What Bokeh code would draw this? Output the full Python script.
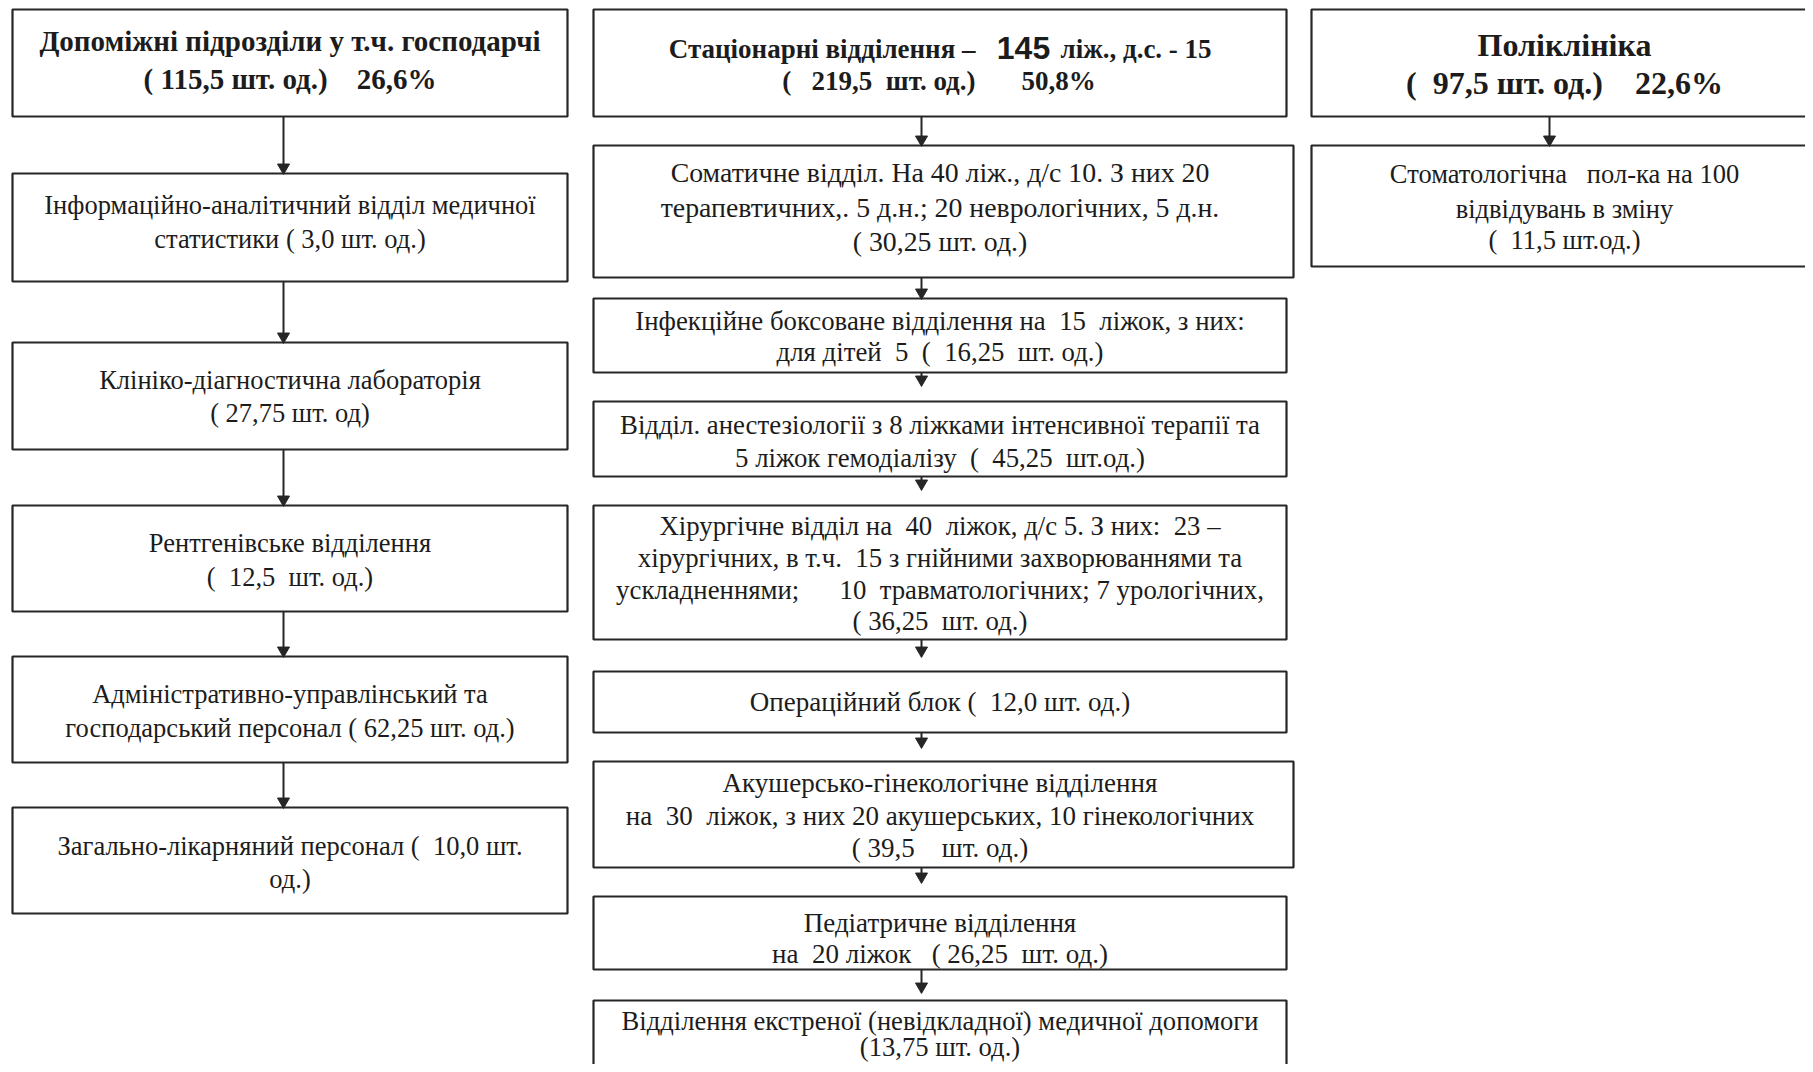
import re
from bokeh.plotting import figure
from bokeh.models import Range1d
from bokeh.core.properties import value
from bokeh.embed import file_html
from bokeh.resources import INLINE

# ---------------- data (texts of the org chart) ----------------
left_lines = [
    ["Допоміжні підрозділи у т.ч. господарчі", "( 115,5 шт. од.)    26,6%"],
    ["Інформаційно-аналітичний відділ медичної", "статистики ( 3,0 шт. од.)"],
    ["Клініко-діагностична лабораторія", "( 27,75 шт. од)"],
    ["Рентгенівське відділення", "(  12,5  шт. од.)"],
    ["Адміністративно-управлінський та", "господарський персонал ( 62,25 шт. од.)"],
    ["Загально-лікарняний персонал (  10,0 шт.", "од.)"],
]
mid_head_parts = ["Стаціонарні відділення –", "145", "ліж., д.с. - 15"]
mid_head_line2 = ["(   219,5  шт. од.)", "50,8%"]
mid_lines = [
    ["Соматичне відділ. На 40 ліж., д/с 10. З них 20",
     "терапевтичних,. 5 д.н.; 20 неврологічних, 5 д.н.",
     "( 30,25 шт. од.)"],
    ["Інфекційне боксоване відділення на  15  ліжок, з них:",
     "для дітей  5  (  16,25  шт. од.)"],
    ["Відділ. анестезіології з 8 ліжками інтенсивної терапії та",
     "5 ліжок гемодіалізу  (  45,25  шт.од.)"],
    ["Хірургічне відділ на  40  ліжок, д/с 5. З них:  23 –",
     "хірургічних, в т.ч.  15 з гнійними захворюваннями та",
     "ускладненнями;      10  травматологічних; 7 урологічних,",
     "( 36,25  шт. од.)"],
    ["Операційний блок (  12,0 шт. од.)"],
    ["Акушерсько-гінекологічне відділення",
     "на  30  ліжок, з них 20 акушерських, 10 гінекологічних",
     "( 39,5    шт. од.)"],
    ["Педіатричне відділення",
     "на  20 ліжок   ( 26,25  шт. од.)"],
    ["Відділення екстреної (невідкладної) медичної допомоги",
     "(13,75 шт. од.)"],
]
right_lines = [
    ["Поліклініка", "(  97,5 шт. од.)    22,6%"],
    ["Стоматологічна   пол-ка на 100", "відвідувань в зміну", "(  11,5 шт.од.)"],
]

# ---------------- layout (page pixels) ----------------
L_X = (12, 567)
left_y = [(9, 116), (173, 281), (342, 449), (505, 611), (656, 762), (807, 913)]
left_text_y = [[40, 78], [204, 238], [379, 412], [542, 576], [693, 727], [845, 878]]
L_ARROW_X = 283

M_X = (593, 1286)
M_X_WIDE = (593, 1293)
mid_head_y = (9, 116)
mid_head_text_y = [48, 80]
mid_y = [(145, 277), (298, 372), (401, 476), (505, 639), (671, 732), (761, 867), (896, 969), (1000, 1095)]
mid_wide = [True, False, False, False, False, True, False, False]
mid_text_y = [[172, 207, 241], [320, 351], [424, 457], [525, 557, 589, 620], [701],
              [782, 815, 847], [922, 953], [1020, 1046]]
mid_size = ["27.8px", "26.8px", "26.8px", "26.8px", "27px", "27px", "27px", "26.6px"]
mid_tri_gap = [None, None, 7, 7, 11, 9, 9, 17]
M_ARROW_X = 921

R_X = (1311, 1840)
right_y = [(9, 116), (145, 266)]
right_text_y = [[44, 82], [173, 208, 239]]
R_ARROW_X = 1549

FONT = value("Liberation Serif")
INK = "#1c1c1c"
BORDER = "#262626"

p = figure(width=1805, height=1064, output_backend="svg", toolbar_location=None,
           x_range=Range1d(0, 1805), y_range=Range1d(1064, 0),
           min_border=0, min_border_left=0, min_border_right=0,
           min_border_top=0, min_border_bottom=0)
p.xaxis.visible = False
p.yaxis.visible = False
p.xgrid.visible = False
p.ygrid.visible = False
p.outline_line_color = None
p.background_fill_color = "white"
p.border_fill_color = "white"


def keep_spaces(s):
    # preserve runs of spaces in SVG text
    return re.sub(r" {2,}", lambda m: " " + "\u00a0" * (len(m.group(0)) - 1), s)


def box(x0, x1, y0, y1):
    p.quad(left=[x0], right=[x1], top=[y0], bottom=[y1], fill_color="white",
           line_color=BORDER, line_width=2.2)


def txt(x, y, s, size, bold=False, align="center", font=FONT):
    p.text(x=[x], y=[y], text=[keep_spaces(s)], text_font=font,
           text_font_size=size, text_font_style="bold" if bold else "normal",
           text_align=align, text_baseline="middle", text_color=INK)


def lines(xc, ys, texts, size, bold=False):
    for y, s in zip(ys, texts):
        txt(xc, y, s, size, bold)


def arrow(x, y0, y1, line=True):
    if line:
        p.segment(x0=[x], y0=[y0], x1=[x], y1=[y1 - 6], line_color=BORDER, line_width=2)
    p.scatter(x=[x], y=[y1 - 6], marker="inverted_triangle", size=12,
              fill_color=BORDER, line_color=BORDER)


# ---- left column
lc = (L_X[0] + L_X[1]) / 2
for i, (yy, texts, ty) in enumerate(zip(left_y, left_lines, left_text_y)):
    box(L_X[0], L_X[1], yy[0], yy[1])
    if i == 0:
        lines(lc, ty, texts, "29px", bold=True)
    else:
        lines(lc, ty, texts, "26.5px")
for a, b in zip(left_y[:-1], left_y[1:]):
    arrow(L_ARROW_X, a[1], b[0])

# ---- middle column
box(M_X[0], M_X[1], mid_head_y[0], mid_head_y[1])
txt(975, mid_head_text_y[0], mid_head_parts[0], "27px", bold=True, align="right")
txt(1023, mid_head_text_y[0] - 1, mid_head_parts[1], "32px", bold=True,
    font=value("Liberation Sans"))
txt(1060, mid_head_text_y[0], mid_head_parts[2], "27px", bold=True, align="left")
txt(975, mid_head_text_y[1], mid_head_line2[0], "27px", bold=True, align="right")
txt(1021, mid_head_text_y[1], mid_head_line2[1], "27px", bold=True, align="left")

prev_bottom = mid_head_y[1]
mc = (M_X[0] + M_X[1]) / 2
for k, (yy, wide, texts, ty, sz, gap) in enumerate(
        zip(mid_y, mid_wide, mid_lines, mid_text_y, mid_size, mid_tri_gap)):
    xs = M_X_WIDE if wide else M_X
    box(xs[0], xs[1], yy[0], yy[1])
    lines(mc, ty, texts, sz)
    if gap is None:
        arrow(M_ARROW_X, prev_bottom, yy[0])
    else:
        arrow(M_ARROW_X, prev_bottom, prev_bottom + gap + 6, line=True)
    prev_bottom = yy[1]

# ---- right column
for i, (yy, texts, ty) in enumerate(zip(right_y, right_lines, right_text_y)):
    box(R_X[0], R_X[1], yy[0], yy[1])
    if i == 0:
        lines(1564, ty, texts, "32px", bold=True)
    else:
        lines(1564, ty, texts, "26.5px")
arrow(R_ARROW_X, right_y[0][1], right_y[1][0])

open("out.html", "w").write(file_html(p, INLINE))
